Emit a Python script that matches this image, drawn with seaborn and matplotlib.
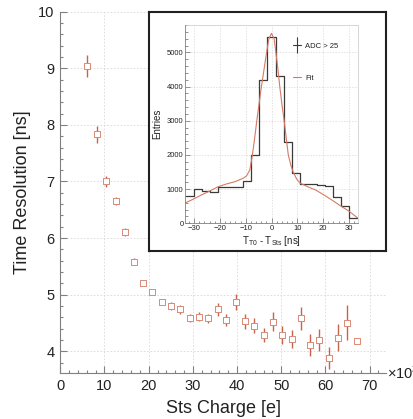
import numpy as np
import matplotlib
matplotlib.use("Agg")
import matplotlib.pyplot as plt
from matplotlib.ticker import MultipleLocator
from matplotlib.lines import Line2D
import seaborn as sns

# Time resolution vs. STS charge (charge in units of 10^3 e)
charge = [6.1, 8.2, 10.4, 12.5, 14.6, 16.7, 18.8, 20.8, 23.0, 25.0,
          27.1, 29.3, 31.4, 33.5, 35.6, 37.6, 39.8, 41.9, 43.9, 46.0,
          48.1, 50.2, 52.4, 54.5, 56.6, 58.6, 60.8, 62.8, 64.9, 67.1]
resolution = [9.04, 7.83, 7.00, 6.65, 6.11, 5.58, 5.20, 5.04, 4.87, 4.80,
              4.74, 4.59, 4.61, 4.58, 4.74, 4.55, 4.87, 4.53, 4.45, 4.29,
              4.52, 4.28, 4.21, 4.58, 4.11, 4.20, 3.88, 4.24, 4.50, 4.18]
resolution_err = [0.19, 0.15, 0.10, 0.07, 0.07, 0.06, 0.05, 0.05, 0.06, 0.07,
                  0.08, 0.07, 0.08, 0.08, 0.12, 0.10, 0.14, 0.13, 0.13, 0.12,
                  0.17, 0.16, 0.16, 0.21, 0.19, 0.20, 0.20, 0.24, 0.31, 0.06]

# Time difference histogram T_T0 - T_Sts (ADC > 25)
bin_edges = [-33.3, -30.13, -26.96, -23.79, -20.61, -17.44, -14.27, -11.1,
             -7.93, -4.76, -1.59, 1.59, 4.76, 7.93, 11.1, 14.27, 17.44,
             20.61, 23.79, 26.96, 30.13, 33.3]
bin_counts = [795, 1000, 955, 908, 1055, 1055, 1055, 1225, 2000, 4190, 5460,
              4310, 2370, 1475, 1145, 1140, 1120, 1100, 780, 500, 150]

# Fit curve samples
fit_x = [-33.3, -30.4, -27.2, -23.9, -20.7, -17.5, -14.2, -11.0, -9.7, -8.4,
         -7.4, -6.5, -5.7, -4.8, -3.9, -2.9, -1.9, -1.0, 0.0, 1.0, 1.7, 2.5,
         3.2, 4.0, 4.9, 5.7, 6.5, 7.5, 8.4, 9.7, 11.0, 14.0, 17.1, 20.3,
         23.4, 26.8, 29.9, 33.3]
fit_y = [600, 702, 827, 944, 1070, 1149, 1216, 1315, 1383, 1558,
         2000, 2500, 3000, 3500, 4000, 4500, 5000, 5400, 5555, 5400, 5000, 4500,
         4000, 3500, 3000, 2500, 2000, 1700, 1500, 1300, 1180, 1070, 973, 830,
         680, 506, 360, 160]

sns.set_theme(style="white")
plt.rcParams["font.family"] = ["Liberation Sans", "DejaVu Sans"]
plt.rcParams["mathtext.fontset"] = "custom"
plt.rcParams["mathtext.rm"] = "Liberation Sans"
plt.rcParams["mathtext.it"] = "Liberation Sans:italic"
plt.rcParams["mathtext.default"] = "regular"

RED = "#c8644b"
MARKER_EDGE = "#d98a76"
AXIS_GRAY = "#808080"
TEXT = "#222222"

W, H = 414, 419
fig = plt.figure(figsize=(W / 100, H / 100), dpi=100)


def frac(x0, y0, x1, y1):
    """pixel box (top-left origin) -> figure fraction rect"""
    return [x0 / W, 1 - y1 / H, (x1 - x0) / W, (y1 - y0) / H]


# ---------------- main axes ----------------
ax = fig.add_axes(frac(60.3, 11.7, 386, 373.3))
ax.errorbar(charge, resolution, yerr=resolution_err, fmt="none",
            ecolor=RED, elinewidth=1.0, capsize=0, zorder=2)
sns.scatterplot(x=charge, y=resolution, ax=ax, marker="s", s=18,
                facecolor="white", edgecolor=MARKER_EDGE, linewidth=0.7, zorder=3)
ax.set_xlim(0, 73.7)
ax.set_ylim(3.61, 10)
ax.xaxis.set_major_locator(MultipleLocator(10))
ax.xaxis.set_minor_locator(MultipleLocator(2))
ax.yaxis.set_major_locator(MultipleLocator(1))
ax.yaxis.set_minor_locator(MultipleLocator(0.2))
for s in ["top", "right"]:
    ax.spines[s].set_visible(False)
for s in ["left", "bottom"]:
    ax.spines[s].set_color(AXIS_GRAY)
    ax.spines[s].set_linewidth(0.8)
ax.tick_params(which="both", direction="in", colors=AXIS_GRAY,
               labelcolor=TEXT, labelsize=10.5, bottom=True, left=True)
ax.tick_params(which="major", length=5, width=0.8, pad=4)
ax.tick_params(which="minor", length=2.5, width=0.8)
ax.grid(True, which="major", color="#d8d8d8", linestyle=(0, (2, 2)), linewidth=0.6)
ax.set_xlabel("Sts Charge [e]", fontsize=13, color=TEXT, labelpad=5)
ax.set_ylabel("Time Resolution [ns]", fontsize=13, color=TEXT, labelpad=5)
fig.text(387 / W, 1 - 373 / H, "×10$^{3}$", fontsize=10.5, color=TEXT,
         ha="left", va="center")

# ---------------- inset pad ----------------
pad = fig.add_axes(frac(149, 12, 386, 251), zorder=5)
pad.set_facecolor("white")
pad.set_xticks([])
pad.set_yticks([])
for s in pad.spines.values():
    s.set_color("#202020")
    s.set_linewidth(1.5)

axi = fig.add_axes(frac(185.5, 25, 357.5, 223.3), zorder=6)
axi.set_facecolor("white")
centers = [(a + b) / 2 for a, b in zip(bin_edges[:-1], bin_edges[1:])]
sns.histplot(x=centers, weights=bin_counts, bins=bin_edges, element="step",
             fill=False, color="#3a3a3a", linewidth=0.9, ax=axi)
sns.lineplot(x=fit_x, y=fit_y, ax=axi, color="#d77a62", linewidth=0.8,
             sort=False, estimator=None)
axi.set_xlim(-33.3, 33.3)
axi.set_ylim(0, 5800)
axi.xaxis.set_major_locator(MultipleLocator(10))
axi.xaxis.set_minor_locator(MultipleLocator(2))
axi.yaxis.set_major_locator(MultipleLocator(1000))
axi.yaxis.set_minor_locator(MultipleLocator(200))
for s in ["top", "right"]:
    axi.spines[s].set_color("#d0d0d0")
    axi.spines[s].set_linewidth(0.6)
for s in ["left", "bottom"]:
    axi.spines[s].set_color(AXIS_GRAY)
    axi.spines[s].set_linewidth(0.6)
axi.tick_params(which="both", direction="in", colors=AXIS_GRAY,
                labelcolor=TEXT, labelsize=5.5, bottom=True, left=True)
axi.tick_params(which="major", length=3.5, width=0.6, pad=1.5)
axi.tick_params(which="minor", length=1.8, width=0.6)
axi.grid(True, which="major", color="#d6d6d6", linestyle=(0, (2, 2)), linewidth=0.5)
axi.set_xlabel("T$_{T0}$ - T$_{Sts}$ [ns]", fontsize=7, color=TEXT, labelpad=1.5)
axi.set_ylabel("Entries", fontsize=7, color=TEXT, labelpad=3)

handles = [
    Line2D([], [], color="#3a3a3a", linewidth=0.8, marker="|",
           markersize=11, markeredgewidth=0.8),
    Line2D([], [], color="#d77a62", linewidth=0.8),
]
axi.legend(handles, ["ADC > 25", "Fit"], loc="upper left",
           bbox_to_anchor=(292.5 / W, 1 - 42.5 / H),
           bbox_transform=fig.transFigure, frameon=False, fontsize=5.5,
           handlelength=1.1, handletextpad=0.6, labelspacing=3.2,
           borderpad=0, borderaxespad=0, labelcolor=TEXT)

fig.savefig("out.png", dpi=100)
